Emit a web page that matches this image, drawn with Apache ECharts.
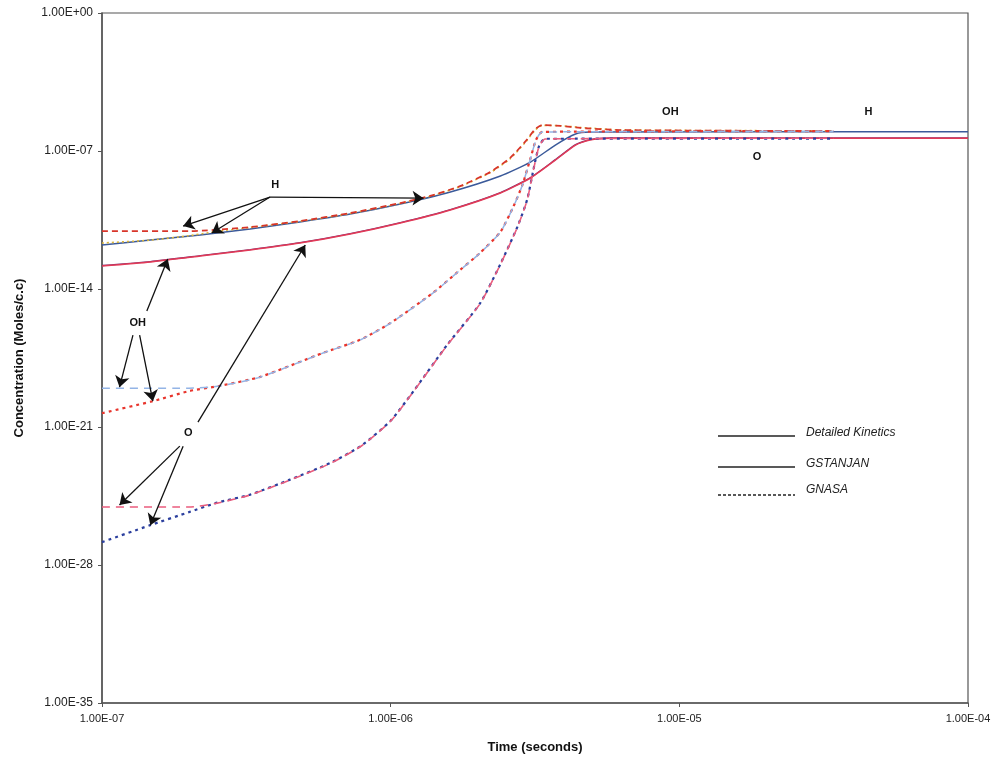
<!DOCTYPE html>
<html>
<head>
<meta charset="utf-8">
<script src="https://cdn.jsdelivr.net/npm/echarts@6/dist/echarts.min.js"></script>
<style>
html,body{margin:0;padding:0;background:#fff;}
#chart{width:998px;height:763px;}
</style>
</head>
<body>
<div id="chart"></div>
<script>
// ---- data: [time (s), concentration (moles/c.c)] ----
const hSolid = [
  [1.00e-7,1.70e-12],[1.47e-7,3.02e-12],[2.19e-7,5.50e-12],[3.26e-7,1.10e-11],[4.85e-7,2.51e-11],
  [7.24e-7,6.31e-11],[1.08e-6,2.04e-10],[1.61e-6,8.32e-10],[2.40e-6,5.37e-9],[3.05e-6,2.75e-8],
  [3.72e-6,2.00e-7],[4.37e-6,7.24e-7],[4.90e-6,9.12e-7],[1.00e-4,9.55e-7]
];
const hDashed = [
  [1.00e-7,8.71e-12],[2.02e-7,8.71e-12],[3.26e-7,1.38e-11],[4.85e-7,2.82e-11],[7.24e-7,7.08e-11],
  [1.08e-6,2.29e-10],[1.37e-6,5.25e-10],[1.74e-6,1.66e-9],[2.21e-6,8.51e-9],[2.59e-6,4.37e-8],
  [2.92e-6,2.88e-7],[3.17e-6,1.29e-6],[3.35e-6,2.09e-6],[3.89e-6,1.86e-6],[4.54e-6,1.48e-6],
  [6.24e-6,1.15e-6],[3.42e-5,1.02e-6]
];
const hDotted = [
  [1.00e-7,2.14e-12],[1.47e-7,3.02e-12],[2.00e-7,5.01e-12],[2.47e-7,8.13e-12],[3.26e-7,1.32e-11],
  [4.85e-7,2.69e-11],[7.24e-7,6.76e-11],[1.08e-6,2.19e-10],[1.37e-6,5.01e-10],[1.74e-6,1.58e-9],
  [2.21e-6,7.94e-9],[2.59e-6,3.98e-8],[2.92e-6,2.63e-7],[3.17e-6,1.17e-6],[3.35e-6,2.00e-6],
  [3.89e-6,1.91e-6],[4.54e-6,1.58e-6],[6.24e-6,1.17e-6],[3.42e-5,1.05e-6]
];
const ohSolid = [
  [1.00e-7,1.55e-13],[1.47e-7,2.45e-13],[2.19e-7,4.90e-13],[3.26e-7,1.00e-12],[4.85e-7,2.24e-12],
  [7.24e-7,6.46e-12],[1.08e-6,2.34e-11],[1.61e-6,1.07e-10],[2.40e-6,7.76e-10],[3.05e-6,4.47e-9],
  [3.72e-6,3.63e-8],[4.37e-6,2.09e-7],[4.90e-6,3.80e-7],[5.75e-6,4.57e-7],[1.00e-4,4.57e-7]
];
const ohDashed = [
  [1.00e-7,9.33e-20],[2.00e-7,9.33e-20],[2.56e-7,1.20e-19],[3.53e-7,3.39e-19],[5.83e-7,5.62e-18],
  [7.83e-7,2.57e-17],[1.00e-6,1.86e-16],[1.40e-6,6.17e-15],[1.74e-6,9.12e-14],[2.04e-6,6.61e-13],
  [2.40e-6,7.76e-12],[2.66e-6,1.45e-10],[2.86e-6,1.86e-9],[3.04e-6,3.47e-8],[3.19e-6,3.63e-7],
  [3.35e-6,9.12e-7],[3.42e-5,1.00e-6]
];
const ohDotted = [
  [1.00e-7,5.01e-21],[1.50e-7,2.04e-20],[2.00e-7,6.61e-20],[2.56e-7,1.23e-19],[3.53e-7,3.47e-19],
  [5.83e-7,5.75e-18],[7.83e-7,2.63e-17],[1.00e-6,1.91e-16],[1.40e-6,6.31e-15],[1.74e-6,9.33e-14],
  [2.04e-6,6.76e-13],[2.40e-6,7.94e-12],[2.66e-6,1.48e-10],[2.86e-6,1.91e-9],[3.04e-6,3.55e-8],
  [3.19e-6,3.72e-7],[3.35e-6,9.33e-7],[3.42e-5,1.02e-6]
];
const oSolid = [
  [1.00e-7,1.45e-13],[1.47e-7,2.34e-13],[2.19e-7,4.68e-13],[3.26e-7,9.55e-13],[4.85e-7,2.14e-12],
  [7.24e-7,6.17e-12],[1.08e-6,2.24e-11],[1.61e-6,1.02e-10],[2.40e-6,7.41e-10],[3.05e-6,4.27e-9],
  [3.72e-6,3.47e-8],[4.37e-6,2.00e-7],[4.90e-6,3.63e-7],[5.75e-6,4.37e-7],[1.00e-4,4.37e-7]
];
const oDashed = [
  [1.00e-7,8.71e-26],[2.00e-7,8.71e-26],[2.51e-7,1.38e-25],[3.26e-7,3.55e-25],[4.48e-7,2.04e-24],
  [6.17e-7,1.41e-23],[7.94e-7,1.12e-22],[1.00e-6,2.00e-21],[1.20e-6,6.31e-20],[1.57e-6,1.41e-17],
  [2.04e-6,1.78e-15],[2.40e-6,1.78e-13],[2.75e-6,1.38e-11],[2.97e-6,3.24e-10],[3.14e-6,1.58e-8],
  [3.27e-6,1.78e-7],[3.43e-6,4.07e-7],[3.42e-5,4.47e-7]
];
const oDotted = [
  [1.00e-7,1.45e-27],[1.47e-7,1.05e-26],[2.00e-7,4.79e-26],[2.51e-7,1.45e-25],[3.26e-7,3.72e-25],
  [4.48e-7,2.14e-24],[6.17e-7,1.48e-23],[7.94e-7,1.17e-22],[1.00e-6,2.09e-21],[1.20e-6,6.61e-20],
  [1.57e-6,1.48e-17],[2.04e-6,1.86e-15],[2.40e-6,1.86e-13],[2.75e-6,1.45e-11],[2.97e-6,3.39e-10],
  [3.14e-6,1.66e-8],[3.27e-6,1.86e-7],[3.43e-6,4.17e-7],[3.42e-5,4.27e-7]
];

// annotation labels and arrows, in data coordinates [time, concentration]
const annotationLabels = [
  ['H', 3.98e-7, 1.86e-9], ['OH', 1.33e-7, 1.86e-16], ['O', 1.99e-7, 4.90e-22],
  ['OH', 9.31e-6, 9.55e-6], ['H', 4.52e-5, 9.55e-6], ['O', 1.86e-5, 4.90e-8]
];
const annotationArrows = [
  [[3.82e-7, 4.62e-10], [1.91e-7, 1.55e-11]],
  [[3.82e-7, 4.62e-10], [2.40e-7, 6.92e-12]],
  [[3.82e-7, 4.62e-10], [1.30e-6, 4.07e-10]],
  [[1.43e-7, 7.59e-16], [1.69e-7, 3.31e-13]],
  [[1.28e-7, 4.57e-17], [1.15e-7, 1.05e-19]],
  [[1.35e-7, 4.57e-17], [1.50e-7, 2.04e-20]],
  [[2.15e-7, 1.78e-21], [5.06e-7, 1.70e-12]],
  [[1.86e-7, 1.07e-22], [1.15e-7, 1.10e-25]],
  [[1.91e-7, 1.07e-22], [1.47e-7, 1.05e-26]]
];
const legendItems = ['Detailed Kinetics', 'GSTANJAN', 'GNASA'];

// decade (log10) scale on both axes
const lg = p => [Math.log10(p[0]), Math.log10(p[1])];
const toLog = arr => arr.map(lg);

function sci(e) {
  e = Math.round(e);
  return '1.00E' + (e < 0 ? '-' : '+') + String(Math.abs(e)).padStart(2, '0');
}

function lineSeries(name, data, color, type, width) {
  return {
    name: name, type: 'line', data: toLog(data), showSymbol: false, symbol: 'none',
    smooth: 0.2, silent: true, z: 2,
    lineStyle: { color: color, type: type, width: width }
  };
}

const chart = echarts.init(document.getElementById('chart'), null, { renderer: 'canvas' });
const font = 'Liberation Sans, Arial, Helvetica, sans-serif';

const series = [
  lineSeries('OH GSTANJAN', ohSolid, '#7b2f6e', 'solid', 1.4),
  lineSeries('O GSTANJAN', oSolid, '#e23a57', 'solid', 1.5),
  lineSeries('H Detailed Kinetics', hSolid, '#3b5a9a', 'solid', 1.5),
  lineSeries('H dotted', hDotted, '#d9b43a', [2, 3], 1.6),
  lineSeries('H GNASA', hDashed, '#d8352a', [6, 4], 1.8),
  lineSeries('OH dotted', ohDotted, '#e8352d', [3, 4], 2.2),
  lineSeries('OH GNASA', ohDashed, '#93b4e6', [8, 6], 1.5),
  lineSeries('O dotted', oDotted, '#2b3f9e', [3, 4], 2.2),
  lineSeries('O GNASA', oDashed, '#ea5c7d', [8, 6], 1.6)
];
series[2].markLine = {
  silent: true, symbol: ['none', 'arrow'], symbolSize: 11, animation: false,
  lineStyle: { color: '#111', width: 1.3, type: 'solid' },
  itemStyle: { color: '#111' },
  label: { show: false },
  data: annotationArrows.map(a => [{ coord: lg(a[0]) }, { coord: lg(a[1]) }])
};
series[2].markPoint = {
  silent: true, symbol: 'circle', symbolSize: 0, animation: false,
  itemStyle: { color: 'rgba(0,0,0,0)' },
  label: { show: true, position: 'inside', formatter: p => p.name,
           fontFamily: font, fontSize: 11, fontWeight: 'bold', color: '#111' },
  data: annotationLabels.map(l => ({ name: l[0], coord: lg([l[1], l[2]]) }))
};

const option = {
  animation: false,
  backgroundColor: '#ffffff',
  grid: { left: 102, top: 13, width: 866, height: 690, show: true, borderColor: '#555', borderWidth: 1.2, containLabel: false },
  xAxis: {
    type: 'value', min: -7, max: -4, interval: 1,
    name: 'Time (seconds)', nameLocation: 'middle', nameGap: 38,
    nameTextStyle: { fontFamily: font, fontSize: 13, fontWeight: 'bold', color: '#111' },
    axisLine: { show: true, onZero: false, lineStyle: { color: '#555', width: 1.5 } },
    axisTick: { show: true, length: 4, lineStyle: { color: '#555' } },
    splitLine: { show: false },
    axisLabel: { formatter: sci, fontFamily: font, fontSize: 11, color: '#222', margin: 10 }
  },
  yAxis: {
    type: 'value', min: -35, max: 0, interval: 7,
    name: 'Concentration (Moles/c.c)', nameLocation: 'middle', nameGap: 76, nameRotate: 90,
    nameTextStyle: { fontFamily: font, fontSize: 13, fontWeight: 'bold', color: '#111' },
    axisLine: { show: true, onZero: false, lineStyle: { color: '#555', width: 1.5 } },
    axisTick: { show: true, length: 4, lineStyle: { color: '#555' } },
    splitLine: { show: false },
    axisLabel: { formatter: sci, fontFamily: font, fontSize: 12, color: '#222', margin: 9 }
  },
  series: series,
  graphic: [
    { type: 'line', shape: { x1: 718, y1: 436, x2: 795, y2: 436 }, style: { stroke: '#222', lineWidth: 1.5 } },
    { type: 'text', x: 806, y: 433, style: { text: legendItems[0], fill: '#222', font: 'italic 12px ' + font, verticalAlign: 'middle' } },
    { type: 'line', shape: { x1: 718, y1: 467, x2: 795, y2: 467 }, style: { stroke: '#222', lineWidth: 1.5 } },
    { type: 'text', x: 806, y: 464, style: { text: legendItems[1], fill: '#222', font: 'italic 12px ' + font, verticalAlign: 'middle' } },
    { type: 'line', shape: { x1: 718, y1: 495, x2: 795, y2: 495 }, style: { stroke: '#222', lineWidth: 1.3, lineDash: [3, 2] } },
    { type: 'text', x: 806, y: 490, style: { text: legendItems[2], fill: '#222', font: 'italic 12px ' + font, verticalAlign: 'middle' } }
  ]
};
chart.setOption(option);
</script>
</body>
</html>
